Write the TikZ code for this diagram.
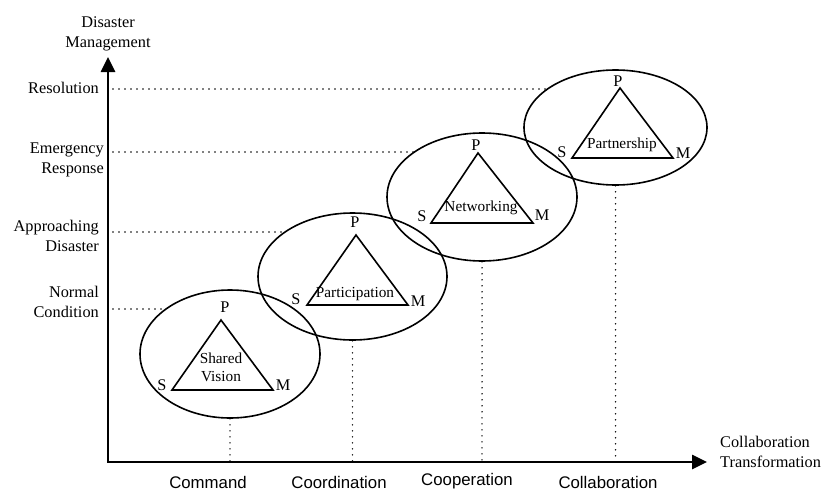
\documentclass[tikz,border=0pt]{standalone}
\usepackage{fontspec}
\setmainfont{Liberation Serif}
\newfontfamily\labsans{Liberation Sans}
\usetikzlibrary{shapes.geometric,arrows.meta}
\begin{document}
\begin{tikzpicture}[x=1pt,y=-1pt,
  ell/.style={draw, ellipse, line width=1.6pt, inner sep=0pt},
  tri/.style={draw, line width=1.6pt, line join=miter},
  dotline/.style={line width=1.6pt, dash pattern=on 0pt off 6pt, line cap=round},
  axisline/.style={line width=2.6pt, line join=miter, {Triangle[width=14pt,length=15pt]}-{Triangle[width=14pt,length=15pt]}},
  lvl/.style={font=\fontsize{16.3}{20.5}\selectfont, align=right, anchor=east, inner sep=0pt},
  corner/.style={font=\fontsize{16.3}{20}\selectfont, inner sep=0pt},
  inlab/.style={font=\fontsize{15.3}{18}\selectfont, align=center, inner sep=0pt},
  phase/.style={font=\labsans\fontsize{16.8}{20}\selectfont, inner sep=0pt}
]
\useasboundingbox (0,0) rectangle (824,490);

% axes
\coordinate (O) at (108,462);
\coordinate (ytip) at (108,57);
\coordinate (xtip) at (707,462);
\draw[axisline] (ytip) -- (O) -- (xtip);
\node[font=\fontsize{16.3}{20.5}\selectfont, align=center, inner sep=0pt] (ylab) at (108,34) {Disaster\\Management};
\node[font=\fontsize{16.3}{20}\selectfont, align=left, anchor=west, inner sep=0pt] (xlab) at (720,452) {Collaboration\\Transformation};

% level labels
\node[lvl] (resol) at (99,88) {Resolution};
\node[lvl] (emerg) at (104,160) {Emergency\\Response};
\node[lvl] (appr) at (99,236) {Approaching\\Disaster};
\node[lvl] (norm) at (99,302) {Normal\\Condition};

% phase labels
\node[phase] (command) at (208,482) {Command};
\node[phase] (coord) at (339,482) {Coordination};
\node[phase] (coop) at (467,481) {Cooperation};
\node[phase] (collab) at (608,482) {Collaboration};

% ellipses
\node[ell, minimum width=180pt, minimum height=128pt] (E1) at (230,354) {};
\node[ell, minimum width=189pt, minimum height=127pt] (E2) at (352.5,276.5) {};
\node[ell, minimum width=190pt, minimum height=128pt] (E3) at (482,197) {};
\node[ell, minimum width=183pt, minimum height=115pt] (E4) at (615.5,127.5) {};

% horizontal dotted guides
\coordinate (h1s) at (113,309); \coordinate (h1e) at (166,309);
\coordinate (h2s) at (113,232); \coordinate (h2e) at (285,232);
\coordinate (h3s) at (113,152); \coordinate (h3e) at (414,152);
\coordinate (h4s) at (113,89);  \coordinate (h4e) at (547,89);
\draw[dotline] (h1s) -- (h1e);
\draw[dotline] (h2s) -- (h2e);
\draw[dotline] (h3s) -- (h3e);
\draw[dotline] (h4s) -- (h4e);

% vertical dotted guides
\draw[dotline] (E1.south) -- (E1.south |- O);
\draw[dotline] (E2.south) -- (E2.south |- O);
\draw[dotline] (E3.south) -- (E3.south |- O);
\draw[dotline] (E4.south) -- (E4.south |- O);

% triangles
\coordinate (T1s) at (172,390); \coordinate (T1m) at (273,390); \coordinate (T1p) at (221,320);
\coordinate (T2s) at (307,305); \coordinate (T2m) at (408,305); \coordinate (T2p) at (356,235);
\coordinate (T3s) at (431,223); \coordinate (T3m) at (533,223); \coordinate (T3p) at (478,153);
\coordinate (T4s) at (572,158); \coordinate (T4m) at (673,158); \coordinate (T4p) at (620,88);
\draw[tri] (T1s) -- (T1p) -- (T1m) -- cycle;
\draw[tri] (T2s) -- (T2p) -- (T2m) -- cycle;
\draw[tri] (T3s) -- (T3p) -- (T3m) -- cycle;
\draw[tri] (T4s) -- (T4p) -- (T4m) -- cycle;

% vertex labels
\node[corner] (p1) at (225,307) {P};
\node[corner] (s1) at (162,385) {S};
\node[corner] (m1) at (283,385) {M};
\node[corner] (p2) at (355,222) {P};
\node[corner] (s2) at (296,299) {S};
\node[corner] (m2) at (418,301) {M};
\node[corner] (p3) at (476,145) {P};
\node[corner] (s3) at (422,216) {S};
\node[corner] (m3) at (542,215) {M};
\node[corner] (p4) at (618,81) {P};
\node[corner] (s4) at (562,152) {S};
\node[corner] (m4) at (683,153) {M};

% inner labels
\node[inlab] (sv) at (221,367) {Shared\\Vision};
\node[inlab] (part) at (355,294) {Participation};
\node[inlab] (net) at (481,208) {Networking};
\node[inlab] (pship) at (622,145) {Partnership};
\end{tikzpicture}
\end{document}
